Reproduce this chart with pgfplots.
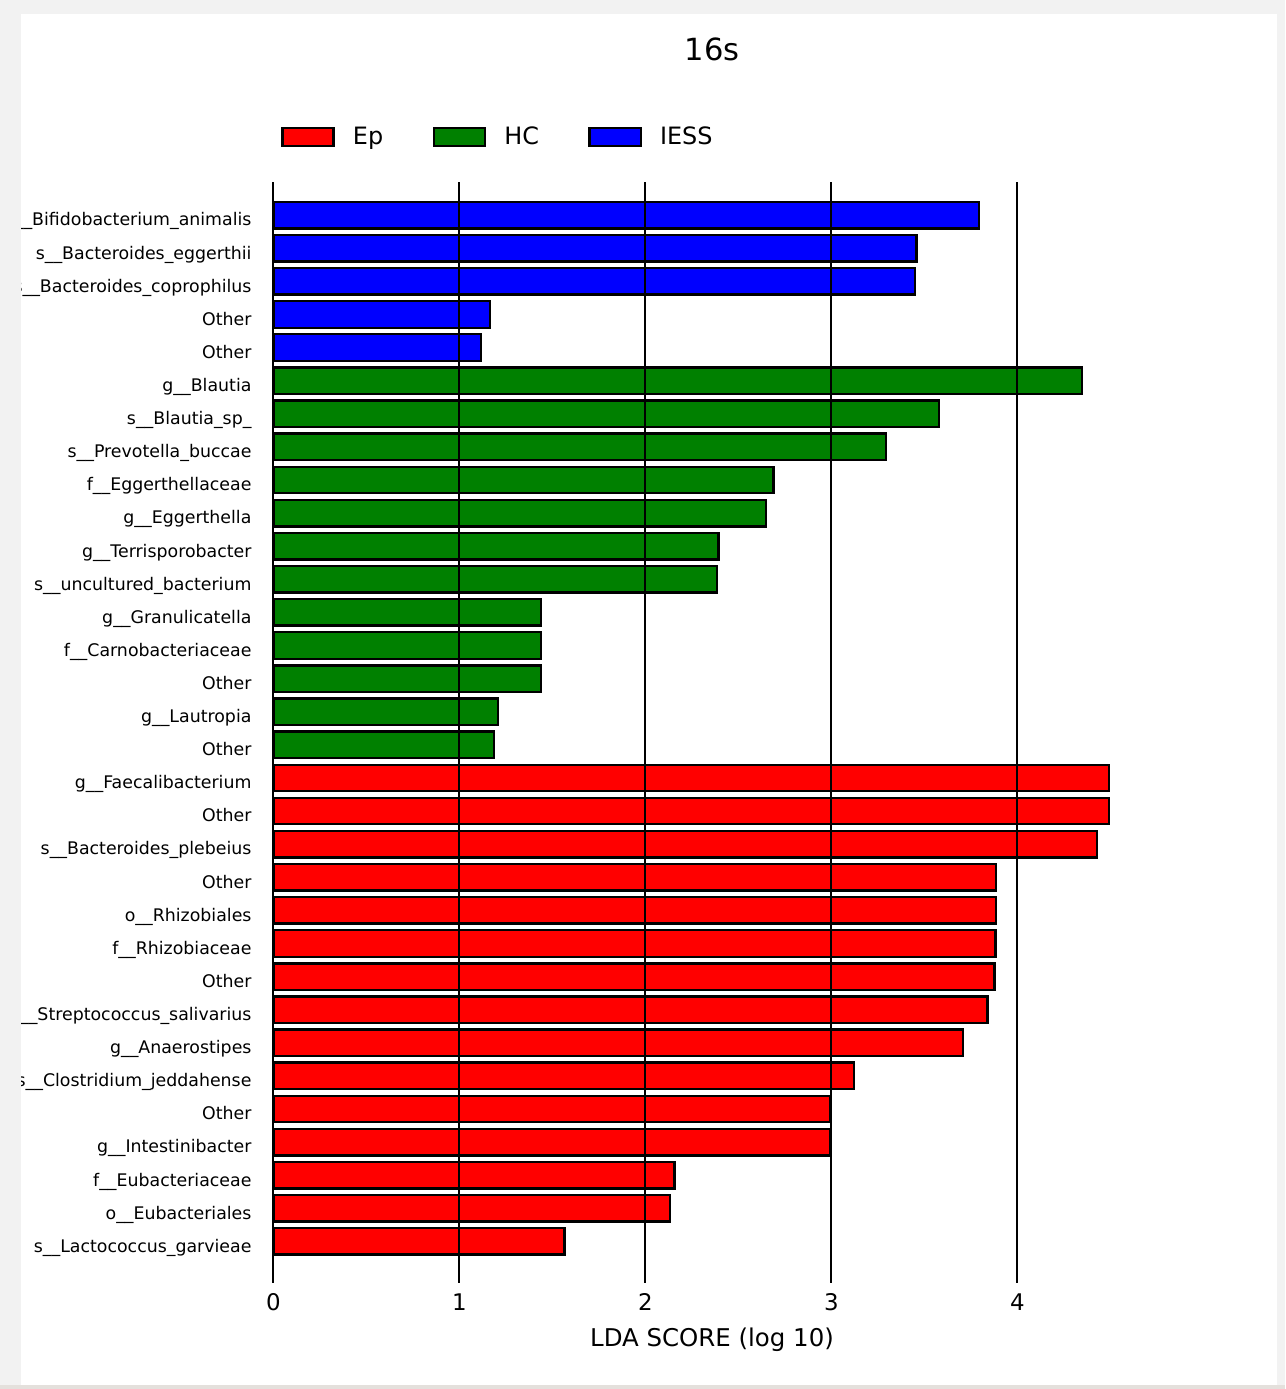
\documentclass[border=0pt]{standalone}
\usepackage{pgfplots}
\pgfplotsset{compat=1.18}
\usepackage{fontspec}
\setmainfont{DejaVu Sans}
\definecolor{bggray}{HTML}{F2F2F2}
\definecolor{edgegray}{HTML}{E4E0DC}
\definecolor{cred}{HTML}{FF0000}
\definecolor{cgreen}{HTML}{008000}
\definecolor{cblue}{HTML}{0000FF}
\pgfplotstableread{
y x
1 3.793
2 3.458
3 3.449
4 1.163
5 1.115
}\iess
\pgfplotstableread{
y x
6 4.346
7 3.577
8 3.292
9 2.689
10 2.648
11 2.393
12 2.385
13 1.440
14 1.440
15 1.440
16 1.209
17 1.186
}\hc
\pgfplotstableread{
y x
18 4.491
19 4.491
20 4.428
21 3.886
22 3.886
23 3.882
24 3.876
25 3.840
26 3.709
27 3.122
28 2.993
29 2.991
30 2.156
31 2.132
32 1.565
}\ep
\begin{document}
\begin{tikzpicture}[x=0.72pt,y=-0.72pt]
\fill[bggray] (0,0) rectangle (1285,1389);
\fill[edgegray] (0,1385) rectangle (1285,1389);
\fill[white] (21,14) rectangle (1277,1385);
\coordinate (axsw) at (273.4,1274.5);
\begin{scope}
\clip (21,14) rectangle (1277,1385);
\begin{axis}[
  at={(axsw)}, anchor=south west,
  scale only axis, width=631.6pt, height=786.6pt,
  xmin=0, xmax=4.716, ymin=0, ymax=33, y dir=reverse,
  xtick={0,1,2,3,4}, ytick={1,...,32},
  yticklabels={s\_\_Bifidobacterium\_animalis, s\_\_Bacteroides\_eggerthii, s\_\_Bacteroides\_coprophilus, Other, Other,
    g\_\_Blautia, s\_\_Blautia\_sp\_, s\_\_Prevotella\_buccae, f\_\_Eggerthellaceae, g\_\_Eggerthella, g\_\_Terrisporobacter, s\_\_uncultured\_bacterium, g\_\_Granulicatella, f\_\_Carnobacteriaceae, Other, g\_\_Lautropia, Other,
    g\_\_Faecalibacterium, Other, s\_\_Bacteroides\_plebeius, Other, o\_\_Rhizobiales, f\_\_Rhizobiaceae, Other, s\_\_Streptococcus\_salivarius, g\_\_Anaerostipes, s\_\_Clostridium\_jeddahense, Other, g\_\_Intestinibacter, f\_\_Eubacteriaceae, o\_\_Eubacteriales, s\_\_Lactococcus\_garvieae},
  /pgf/number format/assume math mode=true,
  xmajorgrids, grid style={black, line width=1.4pt},
  axis line style={draw=none},
  tick align=outside, xtick pos=left, major tick length=6pt,
  x tick style={black, line width=1.4pt}, y tick style={draw=none},
  axis on top,
  xticklabel style={font=\fontsize{16.5}{19}\selectfont, anchor=base, inner sep=0pt, yshift=-20.2pt},
  yticklabel style={font=\fontsize{12.5}{14}\selectfont, anchor=base east, inner sep=0pt, xshift=-9.6pt, yshift=-7.8pt},
  xlabel={LDA SCORE (log 10)},
  xlabel style={at={(axis description cs:0.5,0)}, anchor=base, inner sep=0pt, yshift=-51.5pt, font=\fontsize{17.6}{20}\selectfont},
  title={16s},
  title style={at={(axis description cs:0.5,1)}, anchor=base, inner sep=0pt, yshift=81.5pt, font=\fontsize{22}{26}\selectfont},
  xbar, bar width=0.8, bar shift=0pt,
  legend columns=3,
  legend image code/.code={\draw[#1, line width=1.6pt] (0pt,-6.5pt) rectangle (36.8pt,6.5pt);},
  legend style={at={(axis description cs:0.00866,1.0412)}, anchor=west, draw=none, fill=none,
    font=\fontsize{17.2}{20}\selectfont, inner sep=0pt, nodes={inner sep=0pt},
    /tikz/every odd column/.append style={column sep=13.2pt},
    /tikz/every even column/.append style={column sep=35.6pt}},
]
\addplot[fill=cred, draw=black, line width=1.7pt] table[x=x,y=y] {\ep};
\addlegendentry{Ep}
\addplot[fill=cgreen, draw=black, line width=1.7pt] table[x=x,y=y] {\hc};
\addlegendentry{HC}
\addplot[fill=cblue, draw=black, line width=1.7pt] table[x=x,y=y] {\iess};
\addlegendentry{IESS}
\end{axis}
\end{scope}
\pgfresetboundingbox
\useasboundingbox (0,0) rectangle (1285,1389);
\end{tikzpicture}
\end{document}
